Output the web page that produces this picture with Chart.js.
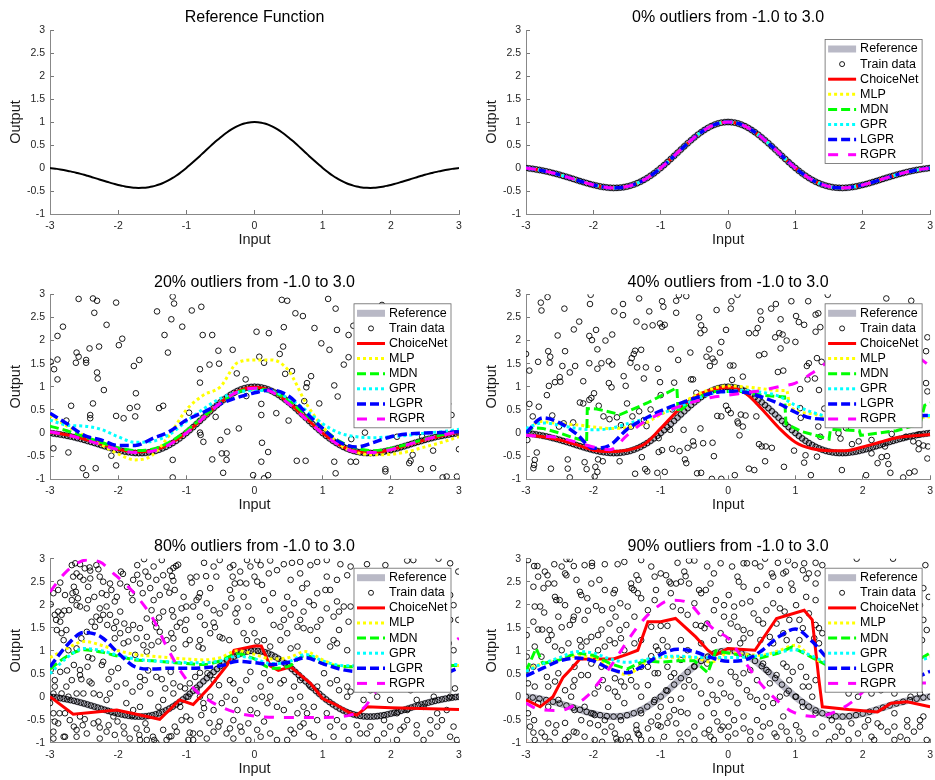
<!DOCTYPE html>
<html>
<head>
<meta charset="utf-8">
<script src="https://cdn.jsdelivr.net/npm/chart.js@4.4.0/dist/chart.umd.min.js"></script>
<style>
html, body { margin: 0; padding: 0; background: #fff; }
#wrap { position: relative; width: 935px; height: 780px; overflow: hidden; }
#wrap canvas { position: absolute; }
</style>
</head>
<body>
<div id="wrap"></div>
<script>
// x grid of the reference function and its values
const refX = [-3,-2.95,-2.9,-2.85,-2.8,-2.75,-2.7,-2.65,-2.6,-2.55,-2.5,-2.45,-2.4,-2.35,-2.3,-2.25,-2.2,-2.15,-2.1,-2.05,
  -2,-1.95,-1.9,-1.85,-1.8,-1.75,-1.7,-1.65,-1.6,-1.55,-1.5,-1.45,-1.4,-1.35,-1.3,-1.25,-1.2,-1.15,-1.1,-1.05,
  -1,-0.95,-0.9,-0.85,-0.8,-0.75,-0.7,-0.65,-0.6,-0.55,-0.5,-0.45,-0.4,-0.35,-0.3,-0.25,-0.2,-0.15,-0.1,-0.05,
  0,0.05,0.1,0.15,0.2,0.25,0.3,0.35,0.4,0.45,0.5,0.55,0.6,0.65,0.7,0.75,0.8,0.85,0.9,0.95,
  1,1.05,1.1,1.15,1.2,1.25,1.3,1.35,1.4,1.45,1.5,1.55,1.6,1.65,1.7,1.75,1.8,1.85,1.9,1.95,
  2,2.05,2.1,2.15,2.2,2.25,2.3,2.35,2.4,2.45,2.5,2.55,2.6,2.65,2.7,2.75,2.8,2.85,2.9,2.95,3];
const refY = [0,-0.009,-0.019,-0.031,-0.044,-0.058,-0.073,-0.090,-0.109,-0.128,-0.148,-0.170,-0.192,-0.214,-0.237,-0.261,-0.284,-0.306,-0.328,-0.349,
  -0.368,-0.385,-0.401,-0.413,-0.423,-0.430,-0.433,-0.432,-0.427,-0.417,-0.403,-0.384,-0.360,-0.331,-0.298,-0.259,-0.216,-0.168,-0.116,-0.060,
  0,0.063,0.128,0.195,0.263,0.333,0.402,0.470,0.537,0.602,0.664,0.723,0.777,0.827,0.871,0.910,0.942,0.967,0.985,0.996,
  1,0.996,0.985,0.967,0.942,0.910,0.871,0.827,0.777,0.723,0.664,0.602,0.537,0.470,0.402,0.333,0.263,0.195,0.128,0.063,
  0,-0.060,-0.116,-0.168,-0.216,-0.259,-0.298,-0.331,-0.360,-0.384,-0.403,-0.417,-0.427,-0.432,-0.433,-0.430,-0.423,-0.413,-0.401,-0.385,
  -0.368,-0.349,-0.328,-0.306,-0.284,-0.261,-0.237,-0.214,-0.192,-0.170,-0.148,-0.128,-0.109,-0.090,-0.073,-0.058,-0.044,-0.031,-0.019,-0.009,0];

// grid of the fitted curves
const fitX = [-3,-2.75,-2.5,-2.25,-2,-1.75,-1.5,-1.25,-1,-0.75,-0.5,-0.25,0,0.25,0.5,0.75,1,1.25,1.5,1.75,2,2.25,2.5,2.75,3];

const titles = ['Reference Function', '0% outliers from -1.0 to 3.0', '20% outliers from -1.0 to 3.0',
  '40% outliers from -1.0 to 3.0', '80% outliers from -1.0 to 3.0', '90% outliers from -1.0 to 3.0'];

// 20% outliers
const choice20 = [0.02,-0.04,-0.13,-0.24,-0.35,-0.41,-0.38,-0.24,0.01,0.33,0.66,0.9,0.99,0.91,0.66,0.33,0.0,-0.26,-0.4,-0.42,-0.36,-0.26,-0.15,-0.06,0.02];
const mlp20 = [0.38,0.15,-0.05,-0.25,-0.45,-0.58,-0.48,-0.05,0.5,0.82,1.0,1.52,1.58,1.58,1.35,0.66,0.14,-0.25,-0.42,-0.47,-0.46,-0.4,-0.3,-0.2,-0.08];
const mdn20 = [0.15,0.05,-0.08,-0.2,-0.32,-0.38,-0.35,-0.2,0.05,0.35,0.65,0.88,0.96,0.9,0.7,0.4,0.1,-0.18,-0.33,-0.38,-0.33,-0.24,-0.13,-0.04,0.04];
const gpr20 = [0.28,0.17,0.15,0.08,-0.08,-0.2,-0.18,-0.03,0.25,0.52,0.75,0.88,0.92,0.9,0.75,0.5,0.2,0.0,-0.08,-0.1,-0.08,-0.05,0.0,0.03,0.08];
const lgpr20 = [0.43,0.2,-0.05,-0.15,-0.27,-0.27,-0.12,0.03,0.28,0.45,0.63,0.77,0.87,0.93,0.8,0.45,0.1,-0.2,-0.3,-0.2,-0.08,-0.02,0.0,0.01,0.03];
const rgpr20 = [0.03,-0.04,-0.14,-0.25,-0.36,-0.42,-0.39,-0.25,0.0,0.33,0.65,0.89,0.97,0.89,0.64,0.31,-0.01,-0.27,-0.41,-0.42,-0.36,-0.25,-0.14,-0.05,0.03];
const out20 = [[-2.58,2.9],[-2.37,2.91],[-2.31,2.86],[-2.81,2.3],[-2.89,2.1],[-2.35,2.6],[-2.17,2.34],[-2.61,1.74],[-2.58,1.65],[-2.62,1.52],
  [-2.47,1.58],[-2.47,1.52],[-2.42,1.83],[-2.28,1.87],[-2.31,1.31],[-2.3,1.18],[-2.21,0.93],[-2.89,1.59],[-2.89,1.16],[-2.94,1.38],
  [-2.99,1.54],[-2.69,0.59],[-2.37,0.64],[-2.41,0.39],[-2.41,0.32],[-2.76,0.27],[-2.95,-0.33],[-2.73,-0.42],[-2.52,-0.76],[-2.47,-0.91],
  [-2.33,-0.76],[-2.03,2.82],[-1.99,1.9],[-1.94,2.04],[-1.69,1.58],[-1.77,1.45],[-1.74,0.86],[-1.72,0.57],[-1.83,0.54],[-1.75,0.36],
  [-2.03,0.37],[-1.92,0.32],[-2.1,-0.49],[-2.03,-0.7],[-1.43,2.63],[-1.32,2.12],[-1.27,1.74],[-1.2,2.95],[-1.18,2.8],[-1.22,2.46],
  [-1.06,2.3],[-1.4,0.54],[-1.34,0.59],[-1.2,-0.58],[-1.2,-0.96],[-0.92,2.65],[-0.78,2.73],[-0.76,2.12],[-0.62,2.12],[-0.8,1.38],
  [-0.8,1.09],[-0.66,1.48],[-0.52,1.5],[-0.53,1.78],[-0.32,1.8],[-0.96,0.44],[-0.8,0.01],[-0.75,-0.19],[-0.79,-0.04],[-0.62,-0.57],
  [-0.5,-0.15],[-0.48,-0.44],[-0.41,-0.44],[-0.41,-0.58],[-0.4,0.03],[-0.57,0.35],[-0.46,-0.86],[-0.23,0.1],[-0.26,1.29],[-0.13,1.16],
  [-0.12,0.8],[0.03,2.19],[0.21,2.16],[0.07,1.65],[0.14,1.52],[0.1,0.63],[0.1,0.39],[0.11,-0.21],[0.1,-0.62],[-0.02,-0.91],
  [0.14,-0.98],[0.2,-0.91],[0.2,-0.41],[0.32,0.43],[0.37,1.71],[0.4,2.88],[0.48,2.86],[0.43,2.29],[0.42,1.87],[0.45,1.28],
  [0.5,0.27],[0.55,1.34],[0.6,2.59],[0.71,2.53],[0.73,0.69],[0.76,0.99],[0.77,1.08],[0.83,1.23],[0.88,2.27],[0.62,-0.6],
  [0.75,-0.6],[0.95,0.64],[1.08,2.9],[1.1,1.8],[0.98,1.94],[1.19,2.69],[1.21,2.23],[1.17,1.03],[1.22,0.79],[1.17,-0.62],
  [1.19,-0.87],[1.38,2.12],[1.31,1.48],[1.38,1.64],[1.45,2.32],[1.41,-0.62],[1.49,-0.62],[1.42,-0.13],[1.62,0.01],[1.59,0.6],
  [2.82,2.34],[2.89,0.39],[2.84,0.63],[2.82,-0.94],[2.97,-0.94],[3.0,-0.35],[2.62,-0.76],[2.76,-0.96],[1.92,-0.78],[1.92,-0.83],
  [2.29,-0.6],[2.27,-0.65],[2.32,-0.47],[2.44,-0.78],[2.62,-0.38],[2.46,-0.08],[1.87,2.77],[2.09,-0.08]];

// 40% outliers
const choice40 = [-0.04,-0.08,-0.15,-0.25,-0.37,-0.4,-0.37,-0.25,0.1,0.48,0.78,0.93,0.99,0.87,0.52,0.12,-0.2,-0.34,-0.38,-0.38,-0.3,-0.2,-0.1,-0.06,-0.03];
const mlp40X = [-3,-2.8,-2.5,-2.2,-2,-1.75,-1.5,-1.25,-1,-0.75,-0.5,-0.25,0,0.25,0.5,0.75,0.87,0.92,1.25,1.5,2,2.5,3];
const mlp40 = [0.0,0.25,0.2,0.17,0.13,0.1,0.12,0.2,0.4,0.6,0.8,0.95,1.02,1.0,0.96,0.92,0.92,0.57,0.42,0.3,0.27,0.3,0.35];
const mdn40X = [-3,-2.9,-2.75,-2.5,-2.3,-2.1,-2.09,-1.95,-1.6,-1.2,-0.76,-0.74,-0.5,-0.2,0.2,0.5,0.84,0.86,1.1,1.5,1.52,1.95,1.97,2.5,2.85,2.92,3];
const mdn40 = [0.0,0.12,0.1,0.0,-0.1,-0.18,0.53,0.52,0.4,0.65,0.98,0.45,0.75,0.9,0.9,0.82,0.78,0.2,0.03,-0.13,0.08,0.05,-0.05,0.05,0.2,0.6,0.65];
const gpr40 = [0.1,0.22,0.17,0.1,0.07,0.1,0.2,0.3,0.42,0.55,0.72,0.85,0.9,0.92,0.88,0.8,0.6,0.45,0.35,0.3,0.3,0.32,0.35,0.37,0.38];
const lgpr40 = [0.0,0.33,0.22,-0.02,-0.33,-0.26,0.08,0.3,0.48,0.62,0.75,0.86,0.9,0.88,0.78,0.64,0.45,0.32,0.3,0.3,0.32,0.34,0.35,0.37,0.38];
const rgpr40 = [-0.05,-0.07,-0.1,-0.2,-0.3,-0.36,-0.05,0.24,0.42,0.56,0.68,0.77,0.82,0.87,0.92,1.0,1.08,1.3,1.55,1.7,1.75,1.8,1.78,1.7,1.45];
const out40 = [[-2.68,2.94],[-2.78,2.82],[-2.77,2.65],[-2.43,2.69],[-2.21,2.41],[-2.29,2.24],[-2.53,2.11],[-2.04,2.99],[-2.05,2.79],[-2.06,2.1],
  [-2.02,2.01],[-1.96,2.23],[-1.82,2.0],[-1.72,2.13],[-1.69,2.63],[-1.56,2.79],[-1.56,2.55],[-1.36,2.41],[-1.32,2.91],[-1.24,2.3],
  [-1.17,2.63],[-0.98,2.85],[-0.96,2.73],[-1.01,2.37],[-0.98,2.3],[-1.12,2.33],[-0.94,2.34],[-0.77,2.6],[-0.77,2.86],[-0.73,2.98],
  [-0.62,2.96],[-0.43,2.5],[-0.4,2.33],[-0.35,2.23],[-0.41,2.16],[-0.17,2.66],[-0.1,1.97],[-0.03,2.23],[0.05,2.85],[0.14,2.99],
  [0.04,2.69],[0.31,2.16],[0.41,2.16],[0.48,2.63],[0.49,2.45],[0.44,2.27],[0.64,2.69],[0.71,2.79],[0.78,2.46],[0.7,2.07],
  [0.76,2.16],[0.81,2.13],[0.87,2.0],[0.94,2.85],[1.01,2.53],[1.05,2.4],[1.13,2.34],[1.19,2.85],[1.3,2.56],[1.34,2.59],
  [1.3,2.19],[1.37,2.29],[1.48,2.99],[1.0,1.97],[2.35,2.91],[2.72,2.86],[2.96,2.07],[2.94,1.77],
  [-3.0,1.71],[-2.95,1.35],[-2.82,1.54],[-2.67,1.77],[-2.64,1.65],[-2.65,1.52],[-2.66,1.02],[-2.69,0.82],[-2.57,1.1],[-2.5,1.21],
  [-2.49,1.11],[-2.46,1.45],[-2.42,1.77],[-2.35,1.31],[-2.27,1.45],[-2.15,1.12],[-2.2,0.66],[-2.06,1.51],[-2.06,0.72],[-2.03,0.76],
  [-1.99,0.86],[-1.94,1.81],[-1.94,1.39],[-1.88,1.51],[-1.77,1.55],[-1.72,1.48],[-1.77,1.08],[-1.73,0.99],[-1.92,0.59],[-1.55,1.23],
  [-1.52,1.02],[-1.5,0.64],[-1.45,1.52],[-1.43,1.62],[-1.4,1.71],[-1.38,1.78],[-1.29,1.8],[-1.35,1.42],[-1.22,1.42],[-1.25,1.18],
  [-1.04,1.39],[-1.01,1.1],[-0.85,1.81],[-0.74,1.58],[-0.8,1.09],[-0.56,1.74],[-0.55,1.16],[-0.52,1.16],[-0.47,0.87],[-0.32,1.65],
  [-0.28,1.81],[-0.23,1.61],[-0.27,1.45],[-0.2,1.54],[-0.12,1.74],[0.03,1.46],[0.08,1.46],[0.06,1.15],[0.22,1.22],[0.46,1.68],
  [0.54,1.71],[0.74,1.32],[0.82,1.35],[0.78,1.83],[1.07,0.95],[1.18,1.16],[1.17,1.45],[1.2,1.51],[1.29,1.18],[1.35,0.93],
  [1.32,1.62],[1.39,1.54],[2.94,1.08],[2.96,0.9],
  [-2.95,0.63],[-2.81,0.57],[-2.9,0.36],[-2.61,0.38],[-2.44,0.21],[-2.51,0.14],[-2.3,0.23],[-2.15,0.64],[-1.85,0.36],[-1.76,0.3],
  [-1.65,0.34],[-1.59,0.17],[-1.42,0.36],[-1.44,0.14],[-1.32,0.47],[-1.25,0.28],[-1.21,0.15],[-1.15,0.51],[-1.03,-0.11],[-1.03,-0.41],
  [-0.98,-0.37],[-1.05,-0.86],[-0.94,-0.84],[-0.86,0.07],[-0.83,0.51],[-1.0,0.82],[-0.83,-0.34],[-0.72,-0.39],[-0.66,0.07],[-0.64,-0.57],
  [-0.62,-0.65],[-0.6,-0.32],[-0.52,-0.18],[-0.51,-0.27],[-0.46,-0.87],[-0.4,-0.86],[-0.41,0.1],[-0.37,-0.22],[-0.23,-0.21],[-0.21,-0.5],
  [-0.24,-0.99],[-0.1,-0.99],[-0.16,0.37],[-0.1,0.36],[0.0,0.5],[-0.03,0.59],[0.04,0.43],[0.1,-0.91],[0.14,0.25],[0.15,0.21],
  [0.19,0.4],[0.22,0.14],[0.17,-0.05],[0.26,0.38],[0.31,-0.77],[0.39,-0.8],[0.42,0.36],[0.46,-0.24],[0.5,-0.29],[0.56,-0.29],
  [0.65,-0.32],[0.55,-0.61],[0.83,-0.73],[0.98,-0.38],[1.07,0.54],[1.08,0.33],[1.13,-0.64],[1.15,-0.48],[1.23,-0.91],[1.32,-0.51],
  [1.34,0.14],[1.37,-0.08],[1.43,0.53],[1.64,0.0],[1.67,-0.12],[1.69,-0.8],[1.75,0.11],[1.84,-0.24],[1.94,-0.18],[2.05,-0.91],
  [2.13,-0.15],[2.13,-0.44],[2.22,-0.65],[2.28,-0.52],[2.33,-0.29],[2.36,-0.5],[2.38,-0.67],[2.41,-0.86],[2.43,-0.02],[2.6,-0.96],
  [2.64,-0.08],[2.69,-0.86],[2.77,-0.83],[2.75,-0.18],[2.83,-0.03],[2.83,-0.22],[2.83,-0.35],[2.9,-0.27],[2.96,-0.55],[2.97,-0.29],
  [-2.98,-0.15],[-2.87,-0.58],[-2.88,-0.69],[-2.89,-0.76],[-2.63,-0.77],[-2.38,-0.77],[-2.35,-0.96],[-2.38,-0.57],[-2.13,-0.63],[-2.1,-0.78],
  [-1.97,-0.73],[-1.94,-0.84],[-1.98,-0.94],[-1.93,-0.57],[-1.86,-0.61],[-1.61,-0.61],[-1.38,-0.88],[-1.28,-0.52],[-1.23,-0.78],[-1.2,-0.83],
  [-2.84,-0.42]];

// 80% outliers
const choice80X = [-3,-2.66,-2.02,-1.39,-1.1,-0.9,-0.65,-0.4,-0.3,0,0.1,0.23,0.35,0.53,0.82,1.0,1.2,1.41,1.5,1.65,2,3];
const choice80 = [0.0,-0.38,-0.29,-0.49,-0.07,-0.17,0.22,0.69,1.01,1.1,1.1,0.67,0.57,0.65,0.29,-0.04,-0.18,-0.36,-0.4,-0.22,-0.24,-0.28];
const mlp80 = [0.85,1.05,1.2,1.12,1.0,0.92,0.88,0.85,0.82,0.8,0.85,1.0,0.92,0.82,0.85,0.98,0.8,0.66,0.65,0.66,0.68,0.68,0.68,0.68,0.68];
const mdn80 = [0.6,0.88,1.02,0.97,0.88,0.8,0.78,0.75,0.72,0.7,0.78,0.93,0.82,0.62,0.66,0.9,0.72,0.66,0.65,0.65,0.66,0.67,0.68,0.68,0.68];
const gpr80 = [0.5,0.85,1.05,1.0,0.9,0.82,0.78,0.76,0.74,0.74,0.78,0.88,0.82,0.72,0.76,0.92,0.78,0.68,0.67,0.67,0.68,0.69,0.7,0.7,0.7];
const lgpr80 = [0.65,1.12,1.4,1.3,0.95,0.65,0.6,0.62,0.62,0.63,0.67,0.77,0.74,0.7,0.75,0.85,0.72,0.6,0.55,0.55,0.55,0.55,0.52,0.5,0.63];
const rgpr80X = [-3,-2.76,-2.46,-2.27,-2.07,-1.88,-1.68,-1.48,-1.29,-1.06,-0.84,-0.6,-0.3,0,0.5,1.0,1.4,1.6,1.8,2.0,2.3,2.6,3];
const rgpr80 = [2.28,2.72,2.97,2.93,2.68,2.43,2.1,1.67,1.09,0.5,0.1,-0.14,-0.33,-0.42,-0.45,-0.45,-0.4,-0.25,0.15,0.45,0.7,0.9,1.27];
const out80 = [[-2.68,2.86],[-2.63,2.9],[-2.56,2.88],[-2.42,2.81],[-2.41,2.74],[-2.32,2.86],[-2.29,2.77],[-2.61,2.68],[-2.56,2.61],[-2.85,2.48],
  [-2.65,2.39],[-2.62,2.28],[-2.67,2.25],[-2.59,2.14],[-2.61,1.99],[-2.72,1.88],[-2.83,1.78],[-2.91,1.67],[-2.85,1.63],[-2.76,1.45],
  [-2.99,2.01],[-2.44,2.39],[-2.44,2.1],[-2.35,2.17],[-2.27,1.92],[-2.24,2.25],[-2.17,2.21],[-2.17,1.96],[-2.12,2.46],[-2.05,2.07],
  [-2.12,1.78],[-2.03,1.63],[-2.16,1.56],[-2.06,1.49],[-2.05,1.27],[-1.97,1.85],[-1.91,1.59],[-1.96,2.72],[-1.93,2.67],[-1.87,2.39],
  [-1.79,2.1],[-1.72,2.86],[-1.72,2.65],[-1.62,2.99],[-1.6,2.72],[-1.64,2.25],[-1.53,2.36],[-1.51,1.88],[-1.58,1.7],[-1.46,1.61],
  [-1.4,1.72],[-1.34,2.64],[-1.34,1.85],[-1.68,1.49],[-1.58,1.3],[-1.44,1.51],[-1.39,1.41],[-1.36,2.97],[-1.24,2.74],[-1.21,2.62],
  [-1.19,2.8],[-1.15,2.84],[-1.12,2.87],[-1.29,2.39],[-1.25,2.26],[-1.19,2.52],[-1.17,2.32],[-1.21,1.88],[-1.19,1.74],[-1.07,1.92],
  [-1.22,1.38],[-1.19,1.27],[-1.09,1.61],[-0.94,2.59],[-0.92,2.48],[-0.82,2.16],[-0.9,1.96],[-0.85,2.1],[-0.74,2.91],[-0.71,2.62],
  [-0.65,2.36],[-0.6,1.88],[-0.6,1.61],[-0.58,1.51],[-0.51,1.3],[-0.56,2.61],[-0.36,2.81],[-0.32,2.61],[-0.34,2.14],[-0.25,1.92],
  [-0.28,1.81],[-0.26,1.63],[-0.21,2.48],[-0.12,2.46],[-0.11,2.97],[-0.06,2.83],[-0.47,1.27],[-0.37,1.23],[-0.76,1.05],[-0.82,1.09],
  [-0.95,1.23],[-1.01,1.14],[-1.19,1.05],[-1.29,1.23],[-1.58,0.98],[-1.63,1.12],[-1.75,0.91],[-1.85,1.2],[-1.92,1.16],[-2.22,0.76],
  [-2.24,0.69],[-2.38,0.83],[-2.44,0.86],[-2.45,0.65],[-2.56,0.58],[-2.56,0.47],[-2.65,0.69],[-2.75,0.57],[-2.85,0.54],[-2.99,0.58],
  [-2.93,0.36],[-2.68,0.36],[-2.54,0.38],[-2.42,0.33],[-2.39,0.29],[-2.14,0.38],[-2.1,0.54],[-2.0,0.62],[-1.89,0.29],[-1.79,0.11],
  [-1.68,0.43],[-1.61,0.36],[-1.56,0.57],[-1.44,0.43],[-1.36,0.38],[-1.31,0.18],[-1.23,0.54],[-1.19,0.29],[-1.09,0.22],[-1.02,0.18],
  [-0.95,0.29],[-0.87,0.43],[-0.8,0.52],[-0.69,0.51],[-0.6,0.36],[-0.52,0.25],[-0.36,0.36],[-0.31,0.29],[-0.21,0.14],[-0.12,0.36],
  [-0.06,0.54],[-3.0,-0.14],[-2.95,-0.36],[-2.86,-0.36],[-2.88,-0.58],[-2.95,-0.76],[-2.8,-0.87],[-2.78,-0.87],[-2.71,-0.51],[-2.65,-0.65],
  [-2.61,-0.72],[-2.52,-0.62],[-2.49,-0.49],[-2.36,-0.58],[-2.29,-0.54],[-2.27,-0.67],[-2.14,-0.62],[-2.05,-0.83],[-2.07,-0.43],[-2.01,-0.54],
  [-1.91,-0.8],[-1.88,-0.14],[-1.79,-0.4],[-1.73,-0.69],[-1.69,-0.83],[-1.58,-0.72],[-1.6,-0.58],[-1.49,-0.87],[-1.47,-0.94],[-1.44,-1.0],
  [-1.41,-0.22],[-1.34,-0.72],[-1.25,-0.87],[-1.22,-0.86],[-1.17,-0.65],[-1.07,-0.51],[-1.0,-0.43],[-0.94,-0.51],[-0.95,-0.78],[-0.9,-0.8],
  [-0.8,-0.8],[-0.97,-0.94],[-0.9,-0.94],[-0.78,-0.4],[-0.74,-0.25],[-0.66,-0.57],[-0.6,-0.76],[-0.53,-0.65],[-0.51,-0.54],[-0.41,-0.8],
  [-0.36,-0.69],[-0.31,-0.51],[-0.25,-0.29],[-0.19,-0.76],[-0.09,-0.94],[-0.06,-0.29],[-0.29,-0.07],[-0.41,0.0],[-0.48,-0.14],[-1.19,0.07],
  [-0.85,0.14],[-0.75,-0.14],[-0.6,-0.29],[-1.78,-0.29],[-1.68,-0.22],[-2.27,0.04],[-2.17,-0.07],[-2.51,0.07],[-2.73,0.0],[-2.93,0.22],
  [-2.95,0.07],
  [-2.93,1.78],[-2.88,1.85],[-2.79,1.87],[-2.9,1.45],[-2.83,1.38],[-2.8,1.23],[-2.73,1.01],[-2.61,1.05],[-2.54,1.27],[-2.46,1.41],
  [-2.34,1.52],[-2.39,1.63],[-2.32,1.74],[-2.27,1.67],[-2.22,1.78],[-2.66,2.61],[-2.51,2.54],[-2.41,2.57],[-2.49,2.79],[-2.27,2.61],
  [-2.22,2.5],[-2.46,1.92],[-2.56,1.96],[-2.68,2.1],[-2.78,2.21],[-2.88,2.32],[-2.95,2.25],[-2.1,2.32],[-2.02,2.17],[-1.97,2.46],
  [-1.8,2.25],[-1.78,2.54],[-1.68,2.46],[-1.56,2.61],[-1.48,2.83],[-1.44,2.54],[-1.39,2.21],[-1.48,2.1],[-1.78,1.56],[-1.85,1.45],
  [-1.97,1.38],[-1.73,1.27],[-1.51,1.12],[-1.41,1.2],[-1.14,1.52],[-1.02,1.45],[-1.0,1.67],[-0.8,1.74],[-0.73,1.56],[-0.65,1.38],
  [-0.51,1.81],[-0.43,1.96],[-0.36,2.32],[-0.29,2.46],[-0.16,2.17],[-0.09,1.96],[-0.04,1.67],[-0.16,1.38],[-0.11,1.23],[-0.8,1.23],
  [-1.0,1.96],[-0.8,2.25],[-0.7,2.03],[-1.04,2.17],[-0.85,2.61],[-0.6,2.83],[-0.51,2.97],[-0.31,2.86],[-0.21,2.72],[0.0,2.61],
  [-2.76,0.22],[-2.83,0.07],[-2.61,0.07],[-2.36,0.07],[-2.12,0.07],[-2.02,0.22],[-1.68,0.22],[-1.53,0.07],[-1.34,-0.07],[-1.09,-0.22],
  [-0.97,0.0],[-0.8,0.0],[-0.65,0.0],[-2.61,-0.87],[-2.46,-0.8],[-2.27,-0.91],[-2.17,-0.76],[-1.92,-0.65],[-1.83,-0.91],[-1.68,-0.94],
  [-1.58,-0.94],[-1.29,-0.94],[-1.14,-0.76],[-0.7,-0.91],[-0.31,-0.91],[-0.21,-0.65],[-0.09,-0.58],[-2.95,-0.91],[-2.93,-0.54],[-2.78,-0.36],
  [-2.56,-0.43],
  [0.04,2.97],[0.09,2.86],[0.23,2.96],[0.43,2.88],[0.55,2.91],[0.67,2.93],[0.82,2.86],[0.92,2.93],[1.06,2.97],[1.26,2.88],
  [1.41,2.83],[1.65,2.88],[1.92,2.86],[2.24,2.96],[2.33,2.97],[2.7,3.0],[2.87,2.9],[2.99,2.72],[0.04,2.5],[0.11,2.43],
  [0.27,2.25],[0.53,2.54],[0.7,2.36],[0.8,2.07],[0.72,1.85],[0.87,1.99],[1.04,2.32],[1.11,2.32],[1.06,1.92],[1.21,2.07],
  [1.24,1.85],[1.36,2.64],[1.41,1.96],[1.38,1.63],[1.36,1.01],[1.24,1.45],[1.16,1.23],[0.92,1.52],[0.82,1.45],[0.72,1.49],
  [0.67,1.67],[0.53,1.78],[0.43,1.67],[0.28,1.56],[0.23,1.88],[0.14,2.1],[0.43,1.92],[0.0,1.38],[0.04,1.2],[0.14,1.23],
  [0.23,1.09],[0.38,1.23],[0.53,1.05],[0.63,1.09],[1.11,1.09],[2.82,2.39],[2.87,2.21],[2.92,1.99],[2.99,1.67],[2.87,1.67],
  [2.85,1.16],[2.92,1.01],[0.14,0.51],[0.23,0.36],[0.09,0.22],[0.0,-0.04],[0.11,0.0],[0.19,-0.14],[0.33,-0.22],[0.38,0.29],
  [0.58,0.22],[0.67,0.0],[0.53,-0.07],[0.72,-0.22],[0.92,0.22],[1.02,0.51],[1.11,0.29],[1.24,0.14],[1.36,0.0],[1.41,0.11],
  [1.6,-0.07],[1.7,0.14],[1.8,0.0],[1.9,0.22],[1.99,-0.07],[0.04,-0.36],[0.14,-0.54],[0.04,-0.72],[0.09,-0.87],[0.23,-0.8],
  [0.33,-0.94],[0.48,-0.94],[0.53,-0.72],[0.58,-0.8],[0.67,-0.65],[0.72,-0.58],[0.8,-0.8],[0.87,-0.87],[0.92,-0.51],[1.11,-0.65],
  [1.16,-0.87],[1.31,-0.65],[1.38,-0.94],[1.65,-0.8],[1.7,-0.65],[1.8,-0.94],[1.99,-0.65],[2.14,-0.72],[2.24,-0.51],[2.38,-0.8],
  [2.48,-0.94],[2.58,-0.8],[2.68,-0.65],[2.75,-0.51],[2.87,-0.87],[2.97,-0.94],[2.92,-0.65],[2.87,0.0],[2.94,0.18],[2.63,0.0],
  [2.29,0.14],[2.38,-0.07],[2.24,-0.29],
  [0.21,2.68],[0.33,2.75],[0.67,2.68],[0.77,2.46],[1.06,2.61],[1.21,2.54],[0.92,2.25],[0.48,2.17],[0.58,2.03],[0.38,1.52],
  [0.63,1.52],[0.97,1.67],[1.16,1.74],[1.31,1.96],[0.48,1.38],[0.92,1.23],[1.21,1.16],[0.43,0.36],[0.67,0.36],[0.82,0.22],
  [1.21,0.36],[1.36,0.22],[0.23,0.0],[0.43,-0.29],[0.63,-0.36],[0.77,-0.36],[0.87,-0.22],[1.06,-0.36],[1.21,-0.51],[1.5,-0.62],
  [1.55,-0.8],[1.9,-0.8],[2.09,-0.94],[2.19,-0.65],[2.38,-0.62],[2.58,-0.51],[2.68,-0.36],[2.82,-0.29],[2.48,-0.22],[2.09,-0.36],
  [1.9,-0.51]];

// 90% outliers
const choice90X = [-3,-2.79,-2.6,-2.45,-2.3,-2.2,-1.7,-1.5,-1.34,-1.19,-1.0,-0.78,-0.48,-0.3,-0.2,0,0.4,0.72,1.13,1.25,1.35,1.4,1.79,2.22,2.42,2.66,3];
const choice90 = [-0.07,-0.22,0.0,0.42,0.65,0.82,0.82,0.92,1.01,1.63,1.63,1.7,1.3,1.01,0.9,1.05,1.01,1.7,1.88,1.67,0.36,-0.22,-0.28,-0.33,-0.14,-0.11,-0.22];
const mlp90 = [0.6,0.72,0.82,0.88,0.85,0.62,0.48,0.72,0.85,0.86,0.85,0.75,0.95,0.92,0.9,1.0,1.12,0.85,0.72,0.7,0.7,0.7,0.72,0.8,0.88];
const mdn90X = [-3,-2.85,-2.75,-2.5,-2.25,-2,-1.75,-1.5,-1.25,-1,-0.75,-0.5,-0.3,-0.18,0,0.25,0.48,0.75,0.95,1.25,1.5,2,2.5,2.8,3];
const mdn90 = [0.55,1.05,0.72,0.8,0.95,0.9,0.72,0.6,0.78,0.75,0.78,0.78,0.52,1.0,0.95,0.88,0.84,0.95,1.08,0.85,0.66,0.68,0.7,0.78,0.95];
const gpr90 = [0.55,0.72,0.85,0.98,0.95,0.82,0.75,0.8,0.87,0.88,0.86,0.85,0.85,0.86,0.9,0.97,1.02,0.88,0.72,0.68,0.68,0.68,0.7,0.76,0.85];
const lgpr90 = [0.45,0.62,0.78,0.84,0.78,0.6,0.52,0.68,0.92,1.03,0.98,0.85,0.77,0.8,1.0,1.3,1.47,1.2,0.8,0.6,0.5,0.48,0.45,0.42,0.55];
const rgpr90X = [-3,-2.8,-2.5,-2.3,-2.1,-1.9,-1.7,-1.5,-1.3,-1.1,-0.85,-0.6,-0.4,-0.2,0,0.23,0.48,0.72,0.96,1.3,1.59,1.88,2.08,2.4,2.7,3];
const rgpr90 = [-0.14,-0.28,-0.3,-0.2,0.0,0.35,0.75,1.2,1.6,1.9,2.1,2.05,1.75,1.45,1.27,0.8,0.29,-0.07,-0.33,-0.43,-0.33,-0.07,0.2,0.3,0.3,0.3];
const out90 = [[-2.97,2.97],[-2.88,2.84],[-2.83,2.84],[-2.72,2.72],[-2.68,2.64],[-2.74,2.36],[-2.89,2.39],[-2.58,2.88],[-2.58,2.46],[-2.47,2.83],
  [-2.42,2.68],[-2.4,2.99],[-2.35,2.99],[-2.29,2.84],[-2.25,2.54],[-2.4,2.64],[-2.57,2.17],[-2.55,2.1],[-2.5,2.1],[-2.42,1.99],
  [-2.79,1.96],[-2.73,1.83],[-2.89,1.63],[-2.99,1.34],[-2.82,1.46],[-2.76,1.46],[-2.65,1.45],[-2.62,1.34],[-2.47,1.51],[-2.35,1.56],
  [-2.3,1.67],[-2.29,1.74],[-2.2,2.28],[-2.18,2.21],[-2.09,2.14],[-2.13,2.86],[-2.02,2.91],[-2.02,2.84],[-1.91,2.54],[-2.08,1.87],
  [-2.23,1.88],[-1.96,1.97],[-1.87,1.88],[-1.83,2.88],[-1.64,2.88],[-1.54,2.93],[-1.68,2.32],[-1.7,2.25],[-1.72,1.92],[-1.6,2.03],
  [-1.67,1.74],[-1.76,1.59],[-1.88,1.46],[-1.93,1.34],[-2.03,1.3],[-2.1,1.2],[-2.2,1.23],[-1.61,1.45],[-1.59,1.27],[-1.68,1.16],
  [-1.76,1.23],[-1.51,1.56],[-1.44,2.46],[-1.43,2.36],[-1.4,2.32],[-1.36,2.64],[-1.33,2.54],[-1.29,2.14],[-1.34,2.25],[-1.19,1.88],
  [-1.14,1.52],[-1.07,2.32],[-1.0,2.68],[-0.92,2.64],[-0.87,2.5],[-0.85,2.46],[-0.77,2.46],[-0.7,2.5],[-0.75,2.91],[-0.65,2.72],
  [-0.58,2.96],[-0.5,2.96],[-0.63,2.62],[-0.58,2.46],[-0.43,2.32],[-0.4,2.25],[-0.33,2.32],[-0.26,2.46],[-0.18,2.1],[-0.06,1.99],
  [-0.21,1.88],[-0.31,1.59],[-0.35,1.49],[-0.4,1.54],[-0.48,1.56],[-0.6,1.78],[-0.7,1.88],[-0.82,1.96],[-0.9,1.54],[-1.0,1.54],
  [-0.97,1.23],[-1.07,1.09],[-1.04,1.01],[-1.14,0.88],[-1.19,0.65],[-1.09,0.51],[-1.19,0.25],[-1.36,0.22],[-1.44,0.36],[-1.54,0.22],
  [-1.59,0.33],[-1.68,0.4],[-1.68,0.11],[-1.64,0.0],[-1.78,0.18],[-1.86,0.36],[-1.93,0.22],[-1.98,0.07],[-2.08,0.47],[-2.18,0.47],
  [-2.28,0.36],[-2.3,0.22],[-2.42,0.14],[-2.57,0.33],[-2.67,0.22],[-2.69,0.43],[-2.87,0.22],[-2.97,0.29],[-2.99,0.58],[-2.89,0.65],
  [-2.99,0.87],[-2.97,-0.36],[-2.88,-0.51],[-2.94,-0.65],[-2.89,-0.78],[-2.77,-0.78],[-2.67,-0.58],[-2.65,-0.98],[-2.57,-0.78],[-2.55,-0.62],
  [-2.42,-0.57],[-2.42,-0.94],[-2.37,-0.87],[-2.29,-0.76],[-2.25,-0.78],[-2.18,-0.51],[-2.03,-0.36],[-1.98,-0.4],[-2.05,-0.58],[-1.93,-0.62],
  [-1.87,-0.98],[-1.83,-0.76],[-1.73,-0.65],[-1.68,-0.8],[-1.66,-0.91],[-1.64,-0.98],[-1.59,-0.94],[-1.46,-0.98],[-1.49,-0.87],[-1.36,-0.62],
  [-1.36,-0.72],[-1.34,-0.8],[-1.29,-0.94],[-1.32,-0.83],[-1.19,-0.69],[-1.14,-0.54],[-1.04,-0.43],[-1.04,-0.62],[-1.0,-0.65],[-0.9,-0.57],
  [-0.87,-0.43],[-0.8,-0.29],[-0.7,-0.33],[-0.6,-0.36],[-0.77,-0.58],[-0.72,-0.8],[-0.7,-0.98],[-0.6,-0.8],[-0.5,-0.65],[-0.4,-0.43],
  [-0.35,-0.8],[-0.28,-0.72],[-0.26,-0.87],[-0.21,-0.36],[-0.16,-0.54],[-0.08,-0.65],[0.0,-0.87],[-0.23,0.04],[-0.31,-0.14],[-0.4,0.07],
  [-0.5,0.22],[-0.58,0.36],[-0.65,0.22],[-0.7,-0.04],[-0.85,-0.07],[-0.92,0.14],[-0.85,0.43],[-0.8,0.51],[-0.26,0.36],[-0.11,0.29],
  [-0.06,0.07],[0.0,-0.36],[-0.16,-0.07],
  [-2.67,1.23],[-2.57,1.09],[-2.47,1.01],[-2.37,1.16],[-2.18,1.09],[-1.93,1.01],[-1.83,1.09],[-1.54,1.01],[-1.39,1.16],[-1.29,1.23],
  [-0.9,1.09],[-0.7,1.23],[-0.6,1.01],[-0.4,1.16],[-0.21,1.23],[-0.11,1.38],[-0.31,0.72],[-0.5,0.65],[-0.7,0.8],[-0.9,0.65],
  [-1.04,0.51],[-1.29,0.65],[-1.44,0.58],[-1.88,0.65],[-2.03,0.72],[-2.28,0.65],[-2.52,0.51],[-2.77,0.87],[-2.87,1.09],[-2.67,-0.22],
  [-2.52,-0.07],[-2.33,0.0],[-2.13,-0.22],[-1.78,-0.22],[-1.54,-0.14],[-1.29,0.0],[-1.09,-0.07],[-1.0,-0.22],[-1.29,-0.36],[-1.59,-0.51],
  [-1.83,-0.51],[-2.28,-0.29],[-2.82,-0.14],[-2.87,-0.94],[-2.72,-0.87],[-2.13,-0.87],[-1.98,-0.94],[-1.14,-0.94],[-0.95,-0.87],[-0.5,-0.94],
  [-0.21,-0.94],[-0.11,-0.72],[-1.83,2.32],[-2.03,2.46],[-2.67,2.46],[-2.82,2.61],[-1.29,2.97],[-1.14,2.83],[-1.09,2.61],[-0.31,2.83],
  [-0.11,2.9],[-0.21,2.68],[-0.85,2.25],[-1.09,2.1],[-1.49,1.96],[-1.39,1.74],[-0.5,2.03],[-0.06,1.74],[-2.13,1.67],[-2.52,1.74],
  [-2.87,1.96],
  [0.23,2.9],[0.28,2.9],[0.4,2.9],[0.55,3.0],[0.74,2.91],[0.89,2.96],[0.99,2.86],[1.13,2.9],[1.3,2.91],[0.14,2.61],
  [0.16,2.5],[0.57,2.43],[0.65,2.68],[0.67,2.61],[0.86,2.72],[0.94,2.46],[0.96,2.32],[1.16,2.57],[1.2,2.68],[1.33,2.68],
  [1.4,2.86],[1.91,3.0],[2.45,3.0],[2.93,2.86],[2.9,2.36],[2.98,2.17],[2.85,1.99],[2.9,1.67],[2.95,1.45],[2.88,1.23],
  [0.01,2.21],[0.09,1.96],[0.21,2.03],[0.33,2.07],[0.38,1.81],[0.45,1.67],[0.57,1.88],[0.67,2.03],[0.77,1.92],[0.84,1.85],
  [1.01,1.99],[1.06,1.67],[1.11,1.49],[1.3,1.56],[1.35,1.49],[1.4,1.38],[1.28,1.27],[0.04,1.59],[0.14,1.52],[0.23,1.45],
  [0.33,1.38],[0.23,1.27],[0.82,1.38],[0.87,1.23],[0.62,1.3],[0.48,1.23],
  [0.04,0.54],[0.11,0.43],[0.16,0.29],[0.33,0.58],[0.52,0.72],[0.57,0.58],[0.72,0.47],[0.82,0.72],[0.87,0.65],[0.96,0.54],
  [1.08,0.65],[1.16,0.43],[1.2,0.22],[1.3,0.36],[0.04,0.0],[0.14,-0.14],[0.09,-0.51],[0.01,-0.65],[0.11,-0.8],[0.23,-0.69],
  [0.33,-0.76],[0.48,-0.87],[0.52,-0.65],[0.62,-0.58],[0.69,-0.8],[0.72,-0.87],[0.79,-0.65],[0.87,-0.76],[1.01,-0.62],[1.06,-0.76],
  [1.11,-0.91],[1.3,-0.8],[1.4,-0.65],[1.5,-0.98],[1.59,-0.87],[1.69,-0.76],[1.83,-0.58],[1.93,-0.8],[2.03,-0.65],[2.13,-0.87],
  [2.22,-0.58],[2.37,-0.76],[2.47,-0.65],[2.56,-0.87],[2.66,-0.94],[2.76,-0.76],[2.85,-0.65],[2.95,-0.94],[2.9,-0.43],[2.66,-0.51],
  [2.47,-0.36],[2.13,0.07],[2.27,0.14],[2.47,0.07],[2.56,0.22],[2.71,0.0],[2.85,0.07],[1.93,0.0],[1.79,0.07],[0.57,0.0],
  [0.67,-0.14],[0.52,-0.22],[0.43,-0.07],[0.87,0.07],[1.01,0.0],[0.28,0.14],
  [0.06,2.83],[0.48,2.83],[0.82,2.68],[1.11,2.75],[1.3,2.46],[0.23,2.39],[0.43,2.32],[0.77,2.32],[1.16,2.17],[1.3,2.1],
  [0.09,1.74],[0.52,1.59],[0.72,1.59],[0.91,1.67],[1.2,1.81],[0.01,1.23],[0.18,1.16],[0.67,1.16],[1.06,1.23],[1.35,1.16],
  [0.23,0.51],[0.43,0.36],[0.62,0.29],[0.91,0.36],[1.11,0.22],[1.25,0.0],[0.33,0.0],[0.77,0.0],[1.11,-0.22],[1.3,-0.36],
  [1.54,-0.51],[1.64,-0.65],[2.08,-0.51],[2.27,-0.65],[2.66,-0.65],[2.85,-0.51],[2.47,-0.94],[2.17,-0.94],[1.79,-0.94],[0.23,-0.43],
  [0.43,-0.51],[0.82,-0.43],[0.91,-0.94],[0.33,-0.94]];

const FONT = '"Liberation Sans", Arial, Helvetica, sans-serif';

const pts = (xs, ys) => xs.map((x, i) => ({x: x, y: ys[i]}));
const pairs = arr => arr.map(p => ({x: p[0], y: p[1]}));

// train data = inliers on the reference plus outliers
function trainData(outliers, step) {
  const inl = pts(refX, refY).filter((p, i) => i % step === 0);
  return inl.concat(pairs(outliers));
}

function lineSet(label, data, color, width, dash, order, mode) {
  return {
    label: label, data: data, showLine: true, pointRadius: 0, borderColor: color,
    borderWidth: width, borderDash: dash, order: order,
    cubicInterpolationMode: mode === 'lin' ? 'default' : 'monotone', tension: 0
  };
}

function fullSets(train, c, m, d, g, l, r) {
  return [
    lineSet('Reference', pts(refX, refY), '#b9b9c6', 7, [], 8),
    { label: 'Train data', data: train, showLine: false, pointRadius: 2.8, pointBorderWidth: 0.9,
      pointBorderColor: '#000', pointBackgroundColor: 'rgba(0,0,0,0)', order: 7 },
    lineSet('ChoiceNet', c[0], '#ff0000', 3, [], 6, c[1]),
    lineSet('MLP', m[0], '#ffff00', 3, [3, 3], 5, m[1]),
    lineSet('MDN', d[0], '#00ff00', 3, [9, 4], 4, d[1]),
    lineSet('GPR', g[0], '#00ffff', 3, [3, 3], 3, g[1]),
    lineSet('LGPR', l[0], '#0000ff', 3.5, [9, 4], 2, l[1]),
    lineSet('RGPR', r[0], '#ff00ff', 3, [10, 10], 1, r[1])
  ];
}

const ref = pts(refX, refY);
const panels = [
  { sets: [lineSet('Reference', ref, '#000000', 2, [], 1)], legend: false },
  { sets: fullSets(trainData([], 1), [ref], [ref], [ref], [ref], [ref], [ref]), legend: true },
  { sets: fullSets(trainData(out20, 1), [pts(fitX, choice20)], [pts(fitX, mlp20)], [pts(fitX, mdn20)],
      [pts(fitX, gpr20)], [pts(fitX, lgpr20)], [pts(fitX, rgpr20)]), legend: true },
  { sets: fullSets(trainData(out40, 1), [pts(fitX, choice40)], [pts(mlp40X, mlp40)], [pts(mdn40X, mdn40), 'lin'],
      [pts(fitX, gpr40)], [pts(fitX, lgpr40)], [pts(fitX, rgpr40)]), legend: true },
  { sets: fullSets(trainData(out80, 1), [pts(choice80X, choice80), 'lin'], [pts(fitX, mlp80)], [pts(fitX, mdn80)],
      [pts(fitX, gpr80)], [pts(fitX, lgpr80)], [pts(rgpr80X, rgpr80)]), legend: true },
  { sets: fullSets(trainData(out90, 2), [pts(choice90X, choice90), 'lin'], [pts(fitX, mlp90)], [pts(mdn90X, mdn90), 'lin'],
      [pts(fitX, gpr90)], [pts(fitX, lgpr90)], [pts(rgpr90X, rgpr90)]), legend: true }
];

// page grid
const cols = [
  { left: 0, width: 467, plotLeft: 50, plotRight: 459 },
  { left: 467, width: 468, plotLeft: 526, plotRight: 934 }
];
const rows = [
  { top: 0, height: 262, plotTop: 30, plotBottom: 214 },
  { top: 262, height: 265, plotTop: 294.3, plotBottom: 479.3 },
  { top: 527, height: 253, plotTop: 558.7, plotBottom: 742.7 }
];

const panelTitle = {
  id: 'panelTitle',
  afterDraw(chart, args, opts) {
    const {ctx, chartArea} = chart;
    ctx.save();
    ctx.font = '16px ' + FONT;
    ctx.fillStyle = '#000';
    ctx.textAlign = 'center';
    ctx.textBaseline = 'middle';
    ctx.fillText(opts.text, (chartArea.left + chartArea.right) / 2, chartArea.top - 12);
    ctx.restore();
  }
};

const boxLegend = {
  id: 'boxLegend',
  afterDraw(chart, args, opts) {
    if (!opts.show) return;
    const {ctx, chartArea} = chart;
    const w = 97, h = 124;
    const x0 = chartArea.right - 8 - w, y0 = chartArea.top + 9.5;
    ctx.save();
    ctx.fillStyle = '#fff';
    ctx.fillRect(x0, y0, w, h);
    ctx.strokeStyle = '#666';
    ctx.lineWidth = 0.8;
    ctx.strokeRect(x0, y0, w, h);
    ctx.font = '12.5px ' + FONT;
    ctx.textBaseline = 'middle';
    chart.data.datasets.forEach((ds, i) => {
      const y = y0 + 9.5 + i * 15.1;
      if (ds.showLine) {
        ctx.strokeStyle = ds.borderColor;
        ctx.lineWidth = ds.borderWidth;
        ctx.setLineDash(ds.borderDash);
        ctx.beginPath();
        ctx.moveTo(x0 + 3, y);
        ctx.lineTo(x0 + 31, y);
        ctx.stroke();
        ctx.setLineDash([]);
      } else {
        ctx.strokeStyle = '#000';
        ctx.lineWidth = 0.9;
        ctx.beginPath();
        ctx.arc(x0 + 17, y, 2.5, 0, Math.PI * 2);
        ctx.stroke();
      }
      ctx.fillStyle = '#000';
      ctx.fillText(ds.label, x0 + 35, y);
    });
    ctx.restore();
  }
};

const wrap = document.getElementById('wrap');
panels.forEach((p, k) => {
  const col = cols[k % 2], row = rows[Math.floor(k / 2)];
  const cv = document.createElement('canvas');
  cv.width = col.width;
  cv.height = row.height;
  cv.style.left = col.left + 'px';
  cv.style.top = row.top + 'px';
  cv.style.width = col.width + 'px';
  cv.style.height = row.height + 'px';
  wrap.appendChild(cv);

  const xAxisH = row.top + row.height - row.plotBottom;
  const tickFont = { size: 10.5, family: FONT };
  const labelFont = { size: 14.5, family: FONT, lineHeight: 1 };
  const plain = v => String(v);

  new Chart(cv.getContext('2d'), {
    type: 'scatter',
    data: { datasets: p.sets },
    options: {
      responsive: false,
      animation: false,
      devicePixelRatio: 1,
      events: [],
      layout: { padding: { left: col.plotLeft - col.left - 50, right: col.left + col.width - col.plotRight,
        top: row.plotTop - row.top, bottom: 0 } },
      plugins: {
        legend: { display: false },
        tooltip: { enabled: false },
        panelTitle: { text: titles[k] },
        boxLegend: { show: p.legend }
      },
      scales: {
        x: {
          type: 'linear', min: -3, max: 3,
          ticks: { stepSize: 1, color: '#262626', font: tickFont, padding: 10, maxRotation: 0, autoSkip: false, callback: plain },
          grid: { drawOnChartArea: false, drawTicks: true, tickLength: -4, color: '#777' },
          border: { color: '#888', width: 1 },
          title: { display: true, text: 'Input', color: '#1a1a1a', font: labelFont,
            padding: { top: 0, bottom: xAxisH - 26 - 7.25 } },
          afterFit(s) { s.height = xAxisH; s.paddingLeft = 0; s.paddingRight = 0; }
        },
        y: {
          type: 'linear', min: -1, max: 3,
          ticks: { stepSize: 0.5, color: '#262626', font: tickFont, padding: 9, autoSkip: false, callback: plain },
          grid: { drawOnChartArea: false, drawTicks: true, tickLength: -4, color: '#777' },
          border: { color: '#888', width: 1 },
          title: { display: true, text: 'Output', color: '#1a1a1a', font: labelFont,
            padding: { top: 8.75, bottom: 0 } },
          afterFit(s) { s.width = 50; s.paddingTop = 0; s.paddingBottom = 0; }
        }
      }
    },
    plugins: [panelTitle, boxLegend]
  });
});
</script>
</body>
</html>
